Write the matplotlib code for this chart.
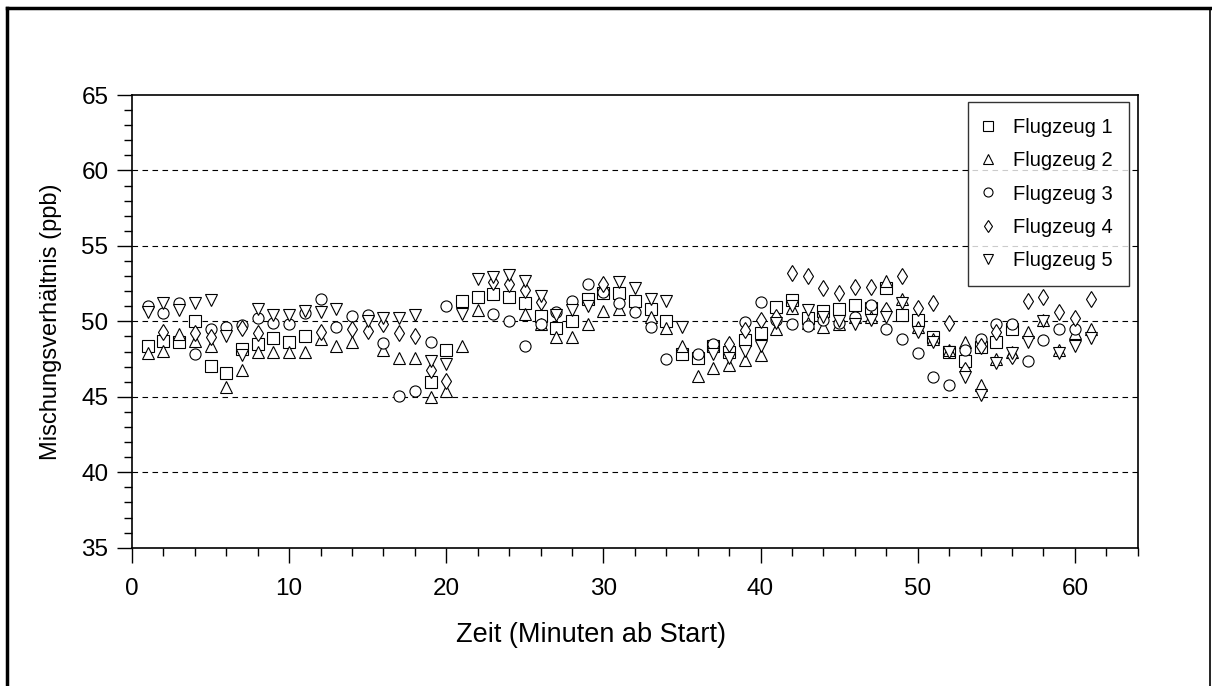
import numpy as np
import matplotlib
matplotlib.use("Agg")
import matplotlib.pyplot as plt
from matplotlib.lines import Line2D
from matplotlib.ticker import MultipleLocator

plt.rcParams['font.family'] = ['Liberation Sans', 'DejaVu Sans']

minutes = list(range(1, 62))
nan = float('nan')

flugzeug_1 = [48.4, 48.7, 48.6, 50.0, 47.05, 46.6, 48.2, 48.5, 48.9, 48.6,
              49.0, nan, nan, nan, nan, nan, nan, nan, 46.0, 48.1,
              51.35, 51.6, 51.8, 51.6, 51.2, 50.35, 49.55, 50.0, 51.45, 51.9,
              51.9, 51.35, 50.85, 50.0, 47.85, 47.55, 48.4, 47.95, 48.75, 49.25,
              50.97, 51.4, 50.2, 50.7, 50.8, 51.1, 50.9, 52.2, 50.4, 50.1,
              48.95, 48.0, 47.4, 48.3, 48.65, 49.5, nan, nan, nan, nan, nan]
flugzeug_2 = [47.9, 48.05, 49.15, 48.7, 48.4, 45.65, 46.8, 47.95, 47.95, 47.95,
              48.0, 48.8, 48.4, 48.6, nan, 48.1, 47.55, 47.55, 45.0, 45.4,
              48.4, 50.75, nan, nan, 50.5, 49.8, 48.95, 48.95, 49.85, 50.7,
              50.85, nan, 50.3, 49.55, 48.4, 46.35, 46.9, 47.1, 47.45, 47.8,
              49.5, 50.9, 49.9, 49.6, 49.8, 50.3, 50.3, 52.7, 51.5, 49.6,
              48.8, 48.1, 48.6, 45.8, 47.5, 48.0, 49.3, 50.1, 48.1, 49.2, 49.5]
flugzeug_3 = [51.05, 50.55, 51.2, 47.85, 49.5, 49.6, 49.75, 50.2, 49.9, 49.85,
              50.55, 51.45, 49.65, 50.35, 50.45, 48.55, 45.05, 45.4, 48.65, 51.0,
              nan, nan, 50.5, 50.05, 48.4, 49.8, 50.65, 51.35, 52.45, 51.95,
              51.2, 50.65, 49.6, 47.5, nan, 47.85, 48.5, nan, 49.95, 51.3,
              50.1, 49.8, 49.7, 50.1, 49.9, 50.3, 51.1, 49.5, 48.8, 47.9,
              46.3, 45.8, 48.1, 48.8, 49.8, 49.8, 47.4, 48.75, 49.5, 49.5, nan]
flugzeug_4 = [nan, 49.3, nan, 49.25, 48.95, nan, 49.55, 49.25, nan, nan,
              nan, 49.3, nan, 49.5, 49.35, 49.85, 49.25, 49.05, 46.8, 46.05,
              nan, nan, 52.6, 52.5, 52.1, 51.25, nan, nan, nan, 52.45,
              nan, nan, nan, nan, nan, nan, nan, 48.5, 49.4, 50.1,
              50.3, 53.2, 53.0, 52.2, 51.9, 52.25, 52.25, 50.75, 53.0, 50.9,
              51.2, 49.9, 46.8, 48.4, 49.3, 47.7, 51.35, 51.6, 50.6, 50.2, 51.5]
flugzeug_5 = [50.6, 51.2, 50.75, 51.2, 51.4, 49.0, 47.75, 50.8, 50.45, 50.45,
              50.7, 50.6, 50.8, nan, 50.0, 50.25, 50.25, 50.45, 47.35, 47.15,
              50.5, 52.8, 52.95, 53.05, 52.65, 51.7, 50.4, 50.75, 51.0, nan,
              52.6, 52.2, 51.5, 51.35, 49.6, nan, 47.85, 47.55, 48.05, 48.4,
              49.9, 51.0, 50.75, 50.3, 50.0, 49.8, 50.1, 50.3, 51.2, 49.3,
              48.6, 48.0, 46.3, 45.1, 47.25, 47.9, 48.65, 50.0, 47.9, 48.4, 48.9]

series = [
    ("Flugzeug 1", flugzeug_1, "s", 8),
    ("Flugzeug 2", flugzeug_2, "^", 8),
    ("Flugzeug 3", flugzeug_3, "o", 8),
    ("Flugzeug 4", flugzeug_4, "d", 8),
    ("Flugzeug 5", flugzeug_5, "v", 8),
]

fig = plt.figure(figsize=(12.12, 6.86), dpi=100)
ax = fig.add_axes([0.1089, 0.2016, 0.8298, 0.6599])

for i, (lab, vals, mk, ms) in enumerate(series):
    ax.plot(minutes, vals, linestyle='none', marker=mk, markersize=ms,
            markerfacecolor='white', markeredgecolor='black',
            markeredgewidth=0.8, label=lab, zorder=3 + i, clip_on=False)

ax.set_xlim(0, 64)
ax.set_ylim(35, 65)
ax.xaxis.set_minor_locator(MultipleLocator(2))
ax.yaxis.set_major_locator(MultipleLocator(5))
ax.yaxis.set_minor_locator(MultipleLocator(1))
ax.set_xticks([0, 10, 20, 30, 40, 50, 60])
ax.tick_params(axis='both', which='major', direction='out', length=11,
               width=1.0, labelsize=17.5)
ax.tick_params(axis='x', which='major', pad=11)
ax.tick_params(axis='y', which='major', pad=6)
ax.tick_params(axis='both', which='minor', direction='out', length=5.5,
               width=1.0)

for v in [40, 45, 50, 55, 60]:
    ax.axhline(v, color='black', linewidth=0.8, linestyle=(0, (5, 4)), zorder=1)

for s in ax.spines.values():
    s.set_linewidth(1.2)
    s.set_color('black')

ax.set_xlabel("Zeit (Minuten ab Start)", fontsize=19.5)
ax.xaxis.set_label_coords(0.456, -0.165)
ax.set_ylabel("Mischungsverhältnis (ppb)", fontsize=17)
ax.yaxis.set_label_coords(-0.07, 0.5)

leg = ax.legend(loc='upper right', bbox_to_anchor=(0.991, 0.985),
                borderaxespad=0, fontsize=14.5, frameon=True, fancybox=False,
                labelspacing=0.71, handletextpad=1.1, borderpad=0.8,
                handlelength=0.3)
leg.get_frame().set_edgecolor('black')
leg.get_frame().set_linewidth(1.0)
leg.set_zorder(20)
for h in leg.legend_handles:
    h.set_markersize(6.5)

# outer frame
fig.add_artist(Line2D([0.006, 0.006], [0.0, 0.989], transform=fig.transFigure,
                      color='black', linewidth=2.5))
fig.add_artist(Line2D([0.006, 0.9985], [0.989, 0.989], transform=fig.transFigure,
                      color='black', linewidth=2.5))
fig.add_artist(Line2D([0.9985, 0.9985], [0.0, 0.989], transform=fig.transFigure,
                      color='black', linewidth=1.2))

fig.savefig("out.png", dpi=100)
